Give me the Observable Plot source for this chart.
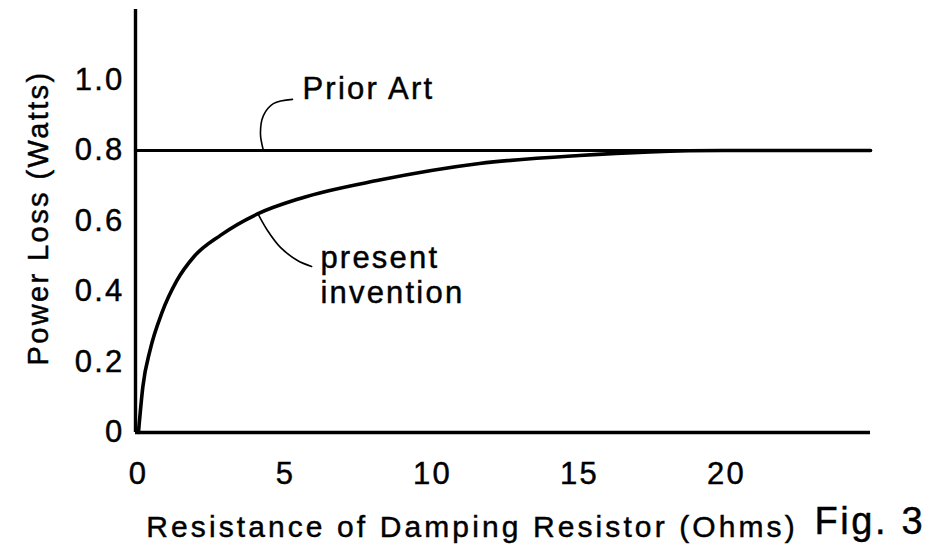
<!DOCTYPE html>
<html>
<head>
<meta charset="utf-8">
<script src="https://cdn.jsdelivr.net/npm/d3@7"></script>
<script src="https://cdn.jsdelivr.net/npm/@observablehq/plot@0.6"></script>
<style>
  html, body { margin: 0; padding: 0; background: #fff; }
  #chart svg text { stroke: #000; stroke-width: 0.45px; }
  #chart svg .ylab text { letter-spacing: 2.4px; }
  #chart svg .xlab text { letter-spacing: 3.1px; }
  #chart svg .figlab text { letter-spacing: 2.6px; }
</style>
</head>
<body>
<div id="chart"></div>
<script>
// ---- data ----
const xTicks = [0, 5, 10, 15, 20];
const yTicks = [0, 0.2, 0.4, 0.6, 0.8, 1.0];

// "present invention" curve
const resistance = [0.1, 0.25, 0.5, 0.9, 1.4, 2.0, 2.9, 4.15, 5.6, 8.3, 11.7, 15.1, 17.5, 20, 25];
const presentLoss = [0, 0.13, 0.235, 0.34, 0.43, 0.5, 0.56, 0.62, 0.664, 0.716, 0.763, 0.786, 0.796, 0.8, 0.8];

// "Prior Art" constant loss
const priorArtR = [0, 25];
const priorArtLoss = [0.8, 0.8];

// annotation labels and leader lines (data coordinates)
const labels = [
  {text: "Prior Art", x: 5.68, y: 0.947},
  {text: "present\ninvention", x: 6.29, y: 0.366}
];
const priorLeaderX = [4.35, 4.25, 4.35, 4.69, 5.34];
const priorLeaderY = [0.8, 0.848, 0.899, 0.933, 0.945];
const presentLeaderX = [4.18, 4.49, 4.93, 5.51, 5.99];
const presentLeaderY = [0.618, 0.573, 0.525, 0.488, 0.471];

const xLabel = "Resistance of Damping Resistor (Ohms)";
const yLabel = "Power Loss (Watts)";
const figLabel = "Fig. 3";

// ---- tables for Plot ----
const present = resistance.map((r, i) => ({r, p: presentLoss[i]}));
const prior = priorArtR.map((r, i) => ({r, p: priorArtLoss[i]}));
const priorLeader = priorLeaderX.map((x, i) => ({x, y: priorLeaderY[i]}));
const presentLeader = presentLeaderX.map((x, i) => ({x, y: presentLeaderY[i]}));

const chart = Plot.plot({
  width: 930,
  height: 553,
  marginLeft: 135,
  marginRight: 60,
  marginTop: 9,
  marginBottom: 121,
  style: "font-family: 'Liberation Sans', Arial, sans-serif; font-size: 31px; letter-spacing: 2.2px; color: #000; background: #fff;",
  x: {domain: [0, 25]},
  y: {domain: [0, 1.2]},
  marks: [
    Plot.axisY({ticks: yTicks, tickSize: 0, tickPadding: 11, label: null,
      tickFormat: d => d === 0 ? "0" : d.toFixed(1)}),
    Plot.axisX({ticks: xTicks, tickSize: 0, tickPadding: 29, label: null, dx: 3}),
    Plot.ruleX([0], {stroke: "#000", strokeWidth: 3.4}),
    Plot.ruleY([0], {stroke: "#000", strokeWidth: 3.4}),
    Plot.line(prior, {x: "r", y: "p", stroke: "#000", strokeWidth: 3.2}),
    Plot.line(present, {x: "r", y: "p", stroke: "#000", strokeWidth: 3.6, curve: "monotone-x"}),
    Plot.line(priorLeader, {x: "x", y: "y", stroke: "#000", strokeWidth: 1.6, curve: "catmull-rom"}),
    Plot.line(presentLeader, {x: "x", y: "y", stroke: "#000", strokeWidth: 1.6, curve: "catmull-rom"}),
    Plot.text(labels, {x: "x", y: "y", text: "text", textAnchor: "start", lineAnchor: "bottom",
      lineHeight: 1.13, fill: "#000", fontSize: 31}),
    Plot.text([yLabel], {frameAnchor: "left", rotate: -90, textAnchor: "middle", lineAnchor: "bottom",
      dx: -88, dy: -3, fill: "#000", fontSize: 29, className: "ylab"}),
    Plot.text([xLabel], {frameAnchor: "bottom", textAnchor: "middle", lineAnchor: "bottom",
      dx: -31, dy: 104, fill: "#000", fontSize: 30, className: "xlab"}),
    Plot.text([figLabel], {frameAnchor: "bottom-right", textAnchor: "start", lineAnchor: "bottom",
      dx: -56, dy: 101, fill: "#000", fontSize: 38, className: "figlab"})
  ]
});
document.getElementById("chart").appendChild(chart);
</script>
</body>
</html>
